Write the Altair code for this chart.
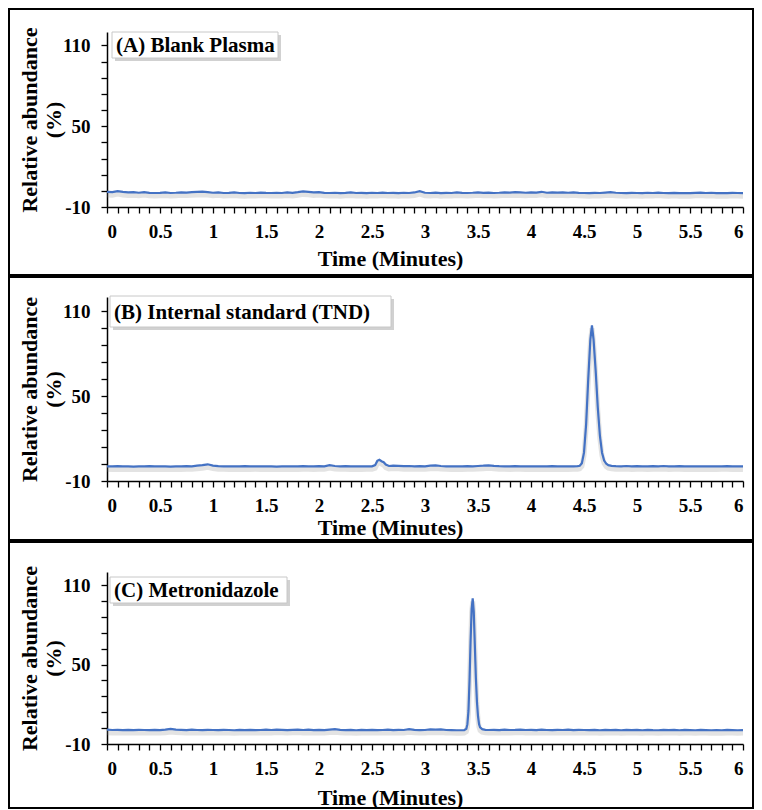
import altair as alt
import pandas as pd

FONT = "Liberation Serif"
LINE_COLOR = "#4472C4"

# ---------------- data (time in minutes, relative abundance in %) ----------------
A_TIME = [0.00, 0.05, 0.10, 0.15, 0.20, 0.25, 0.30, 0.35, 0.40, 0.45,
          0.50, 0.55, 0.60, 0.65, 0.70, 0.75, 0.80, 0.85, 0.90, 0.95,
          1.00, 1.05, 1.10, 1.15, 1.20, 1.25, 1.30, 1.35, 1.40, 1.45,
          1.50, 1.55, 1.60, 1.65, 1.70, 1.75, 1.80, 1.85, 1.90, 1.95,
          2.00, 2.05, 2.10, 2.15, 2.20, 2.25, 2.30, 2.35, 2.40, 2.45,
          2.50, 2.55, 2.60, 2.65, 2.70, 2.75, 2.80, 2.85, 2.90, 2.95,
          3.00, 3.05, 3.10, 3.15, 3.20, 3.25, 3.30, 3.35, 3.40, 3.45,
          3.50, 3.55, 3.60, 3.65, 3.70, 3.75, 3.80, 3.85, 3.90, 3.95,
          4.00, 4.05, 4.10, 4.15, 4.20, 4.25, 4.30, 4.35, 4.40, 4.45,
          4.50, 4.55, 4.60, 4.65, 4.70, 4.75, 4.80, 4.85, 4.90, 4.95,
          5.00, 5.05, 5.10, 5.15, 5.20, 5.25, 5.30, 5.35, 5.40, 5.45,
          5.50, 5.55, 5.60, 5.65, 5.70, 5.75, 5.80, 5.85, 5.90, 5.95,
          6.00]
A_ABUND = [1.2, 1.0, 1.8, 1.2, 0.8, 1.0, 0.6, 1.1, 0.5, 0.4,
           0.5, 0.8, 0.4, 0.6, 0.9, 0.7, 1.0, 1.2, 1.4, 1.1,
           0.6, 0.9, 0.4, 0.5, 0.8, 0.4, 0.3, 0.6, 0.4, 0.7,
           0.5, 0.4, 0.6, 0.4, 0.8, 0.5, 1.0, 1.6, 1.3, 0.8,
           1.1, 0.5, 0.4, 0.6, 0.3, 0.5, 0.8, 0.4, 0.5, 0.3,
           0.6, 0.4, 0.7, 0.4, 0.5, 0.3, 0.6, 0.4, 0.8, 1.8,
           0.6, 0.4, 0.7, 0.3, 0.5, 0.4, 0.8, 0.5, 0.4, 0.6,
           0.9, 0.5, 0.7, 0.4, 0.6, 0.9, 0.7, 1.0, 0.8, 0.6,
           0.9, 0.7, 1.3, 0.6, 0.9, 0.7, 0.8, 0.6, 0.9, 0.5,
           0.4, 0.3, 0.5, 0.4, 0.7, 1.0, 0.6, 0.4, 0.3, 0.5,
           0.4, 0.3, 0.6, 0.4, 0.7, 0.4, 0.3, 0.5, 0.3, 0.4,
           0.3, 0.5, 0.7, 0.4, 0.6, 0.3, 0.4, 0.3, 0.5, 0.4,
           0.3]

B_TIME = [0.00, 0.05, 0.10, 0.15, 0.20, 0.25, 0.30, 0.35, 0.40, 0.45,
          0.50, 0.55, 0.60, 0.65, 0.70, 0.75, 0.80, 0.85, 0.90, 0.95,
          1.00, 1.05, 1.10, 1.15, 1.20, 1.25, 1.30, 1.35, 1.40, 1.45,
          1.50, 1.55, 1.60, 1.65, 1.70, 1.75, 1.80, 1.85, 1.90, 1.95,
          2.00, 2.05, 2.10, 2.15, 2.20, 2.25, 2.30, 2.35, 2.40, 2.45,
          2.50, 2.53, 2.55, 2.57, 2.59, 2.61, 2.63, 2.66, 2.70,
          2.75, 2.80, 2.85, 2.90, 2.95, 3.00, 3.05, 3.10, 3.15, 3.20,
          3.25, 3.30, 3.35, 3.40, 3.45, 3.50, 3.55, 3.60, 3.65, 3.70,
          3.75, 3.80, 3.85, 3.90, 3.95, 4.00, 4.05, 4.10, 4.15, 4.20,
          4.25, 4.30, 4.35,
          4.40, 4.44, 4.46, 4.48, 4.50, 4.52, 4.54, 4.56, 4.575, 4.59,
          4.61, 4.63, 4.65, 4.67, 4.69, 4.71, 4.73, 4.76,
          4.80, 4.85, 4.90, 4.95, 5.00, 5.05, 5.10, 5.15, 5.20, 5.25,
          5.30, 5.35, 5.40, 5.45, 5.50, 5.55, 5.60, 5.65, 5.70, 5.75,
          5.80, 5.85, 5.90, 5.95, 6.00]
B_ABUND = [0.4, 0.3, 0.5, 0.3, 0.4, 0.2, 0.4, 0.3, 0.5, 0.3,
           0.4, 0.3, 0.2, 0.4, 0.3, 0.5, 0.4, 0.8, 1.2, 1.8,
           0.9, 0.5, 0.4, 0.3, 0.4, 0.3, 0.5, 0.3, 0.4, 0.3,
           0.4, 0.3, 0.2, 0.4, 0.3, 0.4, 0.3, 0.5, 0.4, 0.3,
           0.5, 0.4, 1.2, 0.6, 0.4, 0.5, 0.3, 0.4, 0.3, 0.4,
           0.4, 1.2, 4.2, 5.0, 4.0, 3.3, 1.6, 0.6, 0.9,
           0.7, 0.5, 0.6, 0.4, 0.5, 0.4, 0.8, 1.0, 0.6, 0.4,
           0.3, 0.4, 0.3, 0.5, 0.4, 0.6, 0.8, 1.1, 0.7, 0.5,
           0.4, 0.3, 0.5, 0.4, 0.3, 0.4, 0.3, 0.4, 0.3, 0.5,
           0.3, 0.4, 0.3,
           0.4, 0.5, 0.8, 2.5, 10, 30, 62, 90, 100, 90,
           68, 42, 22, 10, 4.5, 2.2, 1.2, 0.7,
           0.5, 0.4, 0.6, 0.3, 0.5, 0.4, 0.3, 0.5, 0.4, 0.6,
           0.3, 0.4, 0.5, 0.3, 0.4, 0.3, 0.4, 0.3, 0.4, 0.3,
           0.4, 0.5, 0.3, 0.4, 0.3]

C_TIME = [0.00, 0.05, 0.10, 0.15, 0.20, 0.25, 0.30, 0.35, 0.40, 0.45,
          0.50, 0.55, 0.60, 0.65, 0.70, 0.75, 0.80, 0.85, 0.90, 0.95,
          1.00, 1.05, 1.10, 1.15, 1.20, 1.25, 1.30, 1.35, 1.40, 1.45,
          1.50, 1.55, 1.60, 1.65, 1.70, 1.75, 1.80, 1.85, 1.90, 1.95,
          2.00, 2.05, 2.10, 2.15, 2.20, 2.25, 2.30, 2.35, 2.40, 2.45,
          2.50, 2.55, 2.60, 2.65, 2.70, 2.75, 2.80, 2.85, 2.90, 2.95,
          3.00, 3.05, 3.10, 3.15, 3.20, 3.25, 3.30,
          3.34, 3.37, 3.39, 3.40, 3.41, 3.42, 3.43, 3.44, 3.45, 3.46,
          3.47, 3.48, 3.49, 3.50, 3.51, 3.52, 3.54, 3.57,
          3.60, 3.65, 3.70, 3.75, 3.80, 3.85, 3.90, 3.95,
          4.00, 4.05, 4.10, 4.15, 4.20, 4.25, 4.30, 4.35, 4.40, 4.45,
          4.50, 4.55, 4.60, 4.65, 4.70, 4.75, 4.80, 4.85, 4.90, 4.95,
          5.00, 5.05, 5.10, 5.15, 5.20, 5.25, 5.30, 5.35, 5.40, 5.45,
          5.50, 5.55, 5.60, 5.65, 5.70, 5.75, 5.80, 5.85, 5.90, 5.95,
          6.00]
C_ABUND = [0.8, 0.6, 0.7, 0.5, 0.6, 0.5, 0.7, 0.6, 0.5, 0.6,
           0.5, 0.8, 1.4, 0.9, 0.7, 0.5, 0.8, 0.6, 0.5, 0.7,
           0.6, 0.5, 0.7, 0.6, 0.4, 0.6, 0.5, 0.7, 0.5, 0.6,
           0.8, 0.6, 0.9, 0.7, 0.5, 0.7, 0.9, 0.6, 0.8, 0.5,
           0.7, 0.5, 0.9, 1.2, 0.7, 0.5, 0.6, 0.4, 0.6, 0.5,
           0.7, 0.5, 0.6, 0.8, 0.5, 0.7, 0.6, 1.2, 0.7, 0.5,
           0.6, 1.0, 0.8, 1.0, 0.6, 0.5, 0.4,
           0.4, 0.5, 1.5, 5, 15, 38, 68, 92, 100, 90,
           65, 40, 22, 11, 5, 2.5, 1.2, 0.7,
           0.6, 0.7, 0.5, 0.8, 0.6, 0.7, 0.9, 0.6,
           0.7, 0.5, 0.8, 0.6, 0.5, 0.7, 0.6, 0.8, 0.5, 0.7,
           0.6, 0.5, 0.7, 0.4, 0.6, 0.5, 0.7, 0.4, 0.6, 0.5,
           0.6, 0.4, 0.7, 0.5, 0.4, 0.6, 0.5, 0.7, 0.4, 0.6,
           0.5, 0.4, 0.6, 0.5, 0.4, 0.5, 0.4, 0.6, 0.5, 0.4,
           0.5]

PANEL_LABELS = ["(A) Blank Plasma", "(B) Internal standard (TND)", "(C) Metronidazole"]
X_TITLE = "Time (Minutes)"
Y_TITLE = ["Relative abundance", "(%)"]

X_TICKS = [0.0, 0.1, 0.2, 0.3, 0.4, 0.5, 0.6, 0.7, 0.8, 0.9,
           1.0, 1.1, 1.2, 1.3, 1.4, 1.5, 1.6, 1.7, 1.8, 1.9,
           2.0, 2.1, 2.2, 2.3, 2.4, 2.5, 2.6, 2.7, 2.8, 2.9,
           3.0, 3.1, 3.2, 3.3, 3.4, 3.5, 3.6, 3.7, 3.8, 3.9,
           4.0, 4.1, 4.2, 4.3, 4.4, 4.5, 4.6, 4.7, 4.8, 4.9,
           5.0, 5.1, 5.2, 5.3, 5.4, 5.5, 5.6, 5.7, 5.8, 5.9,
           6.0]
Y_TICKS = [-10, 2, 14, 26, 38, 50, 62, 74, 86, 98, 110]
X_DOMAIN = [0, 6]
Y_DOMAIN = [-10, 120]

W = 636


def panel(times, vals, label, h, frame_top, frame_bottom, box, title_y):
    assert len(times) == len(vals)
    df = pd.DataFrame({"t": times, "v": vals})
    xs = alt.Scale(domain=X_DOMAIN, nice=False, zero=False)
    ys = alt.Scale(domain=Y_DOMAIN, nice=False, zero=False)
    x_axis = alt.Axis(
        values=X_TICKS,
        labelExpr="(round(datum.value*10) % 5 == 0) ? format(datum.value, '~g') : ''",
        labelOverlap=False,
        title=X_TITLE,
        titleX=283,
        titleY=title_y,
        titleAlign="center",
        titleBaseline="middle",
    )
    y_axis = alt.Axis(
        values=Y_TICKS,
        labelExpr="datum.value == -10 ? '-10' : ((datum.value == 50 || datum.value == 110) ? datum.label : '')",
        labelOverlap=False,
        title=Y_TITLE,
        titleX=-78,
        titleY=h / 2,
        titleAngle=270,
        titleAlign="center",
        titleBaseline="middle",
        titleLineHeight=24,
    )
    x_enc = alt.X("t:Q", scale=xs, axis=x_axis)
    y_enc = alt.Y("v:Q", scale=ys, axis=y_axis)
    one = pd.DataFrame({"k": [0]})
    frame = alt.Chart(one).mark_rect(
        fill="white", fillOpacity=0, stroke="black", strokeWidth=2
    ).encode(
        x=alt.value(-98), x2=alt.value(W + 10),
        y=alt.value(frame_top), y2=alt.value(frame_bottom),
    )
    shadow = alt.Chart(df).mark_line(
        color="#7f7f7f", opacity=0.22, strokeWidth=5, yOffset=3
    ).encode(x=x_enc, y=y_enc)
    line = alt.Chart(df).mark_line(color=LINE_COLOR, strokeWidth=2.2).encode(
        x=x_enc, y=y_enc
    )
    bx0, bx1, by0, by1 = box
    box_shadow = alt.Chart(one).mark_rect(fill="#9a9a9a", opacity=0.45).encode(
        x=alt.value(bx0 + 3), x2=alt.value(bx1 + 3),
        y=alt.value(by0 + 3), y2=alt.value(by1 + 3),
    )
    box_rect = alt.Chart(one).mark_rect(fill="white", stroke="#c8c8c8", strokeWidth=1).encode(
        x=alt.value(bx0), x2=alt.value(bx1),
        y=alt.value(by0), y2=alt.value(by1),
    )
    text = alt.Chart(pd.DataFrame({"label": [label]})).mark_text(
        font=FONT, fontSize=21, fontWeight="bold", color="black",
        align="left", baseline="middle",
    ).encode(
        x=alt.value(bx0 + 4), y=alt.value((by0 + by1) / 2 + 1), text="label:N"
    )
    return alt.layer(frame, shadow, line, box_shadow, box_rect, text).properties(
        width=W, height=h
    )


pa = panel(A_TIME, A_ABUND, PANEL_LABELS[0], 175, -23, 243, (5, 171, 0, 26), 51)
pb = panel(B_TIME, B_ABUND, PANEL_LABELS[1], 184, -20, 243, (3, 284, -1, 30), 46)
pc = panel(C_TIME, C_ABUND, PANEL_LABELS[2], 172, -30, 236, (3, 180, 5, 31), 53)

chart = alt.vconcat(pa, pb, pc, spacing=0).properties(
    padding={"left": 0, "top": 0, "right": 0, "bottom": 0}
).configure_view(stroke=None).configure_axis(
    grid=False,
    domainColor="black", domainWidth=1.5,
    tickColor="black", tickWidth=1.3, tickSize=6,
    labelFont=FONT, labelFontSize=19, labelFontWeight="bold", labelColor="black",
    labelPadding=9,
    titleFont=FONT, titleFontSize=22, titleFontWeight="bold", titleColor="black",
).configure_axisY(labelPadding=11)

chart.save("out.html", embed_options={"renderer": "svg", "actions": False})
